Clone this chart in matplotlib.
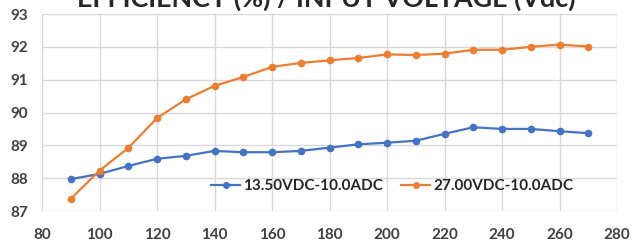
import matplotlib
matplotlib.use("Agg")
import matplotlib.pyplot as plt

voltage = [90, 100, 110, 120, 130, 140, 150, 160, 170, 180, 190, 200, 210, 220, 230, 240, 250, 260, 270]
eff_13v5 = [87.97, 88.13, 88.37, 88.59, 88.68, 88.83, 88.79, 88.79, 88.83, 88.93, 89.03, 89.08, 89.14,
            89.35, 89.55, 89.50, 89.50, 89.43, 89.37]
eff_27v = [87.37, 88.23, 88.92, 89.83, 90.40, 90.81, 91.08, 91.39, 91.51, 91.59, 91.66, 91.77, 91.75,
           91.79, 91.91, 91.91, 92.00, 92.07, 92.01]
labels = ["13.50VDC-10.0ADC", "27.00VDC-10.0ADC"]
title = "EFFICIENCY (%) / INPUT VOLTAGE (Vdc)"

plt.rcParams['font.family'] = ['Lato', 'DejaVu Sans']

fig = plt.figure(figsize=(6.32, 2.41), dpi=100)
ax = fig.add_axes([42/632, 1-211/241, (617-42)/632, (211-14)/241])

ax.plot(voltage, eff_13v5, color='#4472C4', lw=1.6, marker='o', ms=4.5, label=labels[0], zorder=3)
ax.plot(voltage, eff_27v, color='#ED7D31', lw=1.6, marker='o', ms=4.5, label=labels[1], zorder=3)

ax.set_xlim(80, 280)
ax.set_ylim(87, 93)
ax.set_xticks(range(80, 281, 20))
ax.set_yticks(range(87, 94))
ax.grid(True, color='#D9D9D9', lw=1)
for s in ax.spines.values():
    s.set_visible(False)
ax.tick_params(length=0, labelsize=11, labelcolor='#404040')
ax.tick_params(axis='x', pad=12)
ax.tick_params(axis='y', pad=10)
for t in ax.get_xticklabels() + ax.get_yticklabels():
    t.set_fontweight('bold')

leg = ax.legend(loc='center left', bbox_to_anchor=((205-42)/575, 1-(186-14)/197), ncol=2,
                frameon=False, prop={'weight': 'bold', 'size': 11}, handlelength=1.9,
                columnspacing=1.2, handletextpad=0.2, borderaxespad=0)
for t in leg.get_texts():
    t.set_color('#262626')
for h in leg.legend_handles:
    h.set_markersize(4)

fig.text(0.517, 1-7/241, title, ha='center', va='baseline', fontsize=19.4, fontweight='bold', color='#262626')

fig.savefig('out.png', dpi=100)
